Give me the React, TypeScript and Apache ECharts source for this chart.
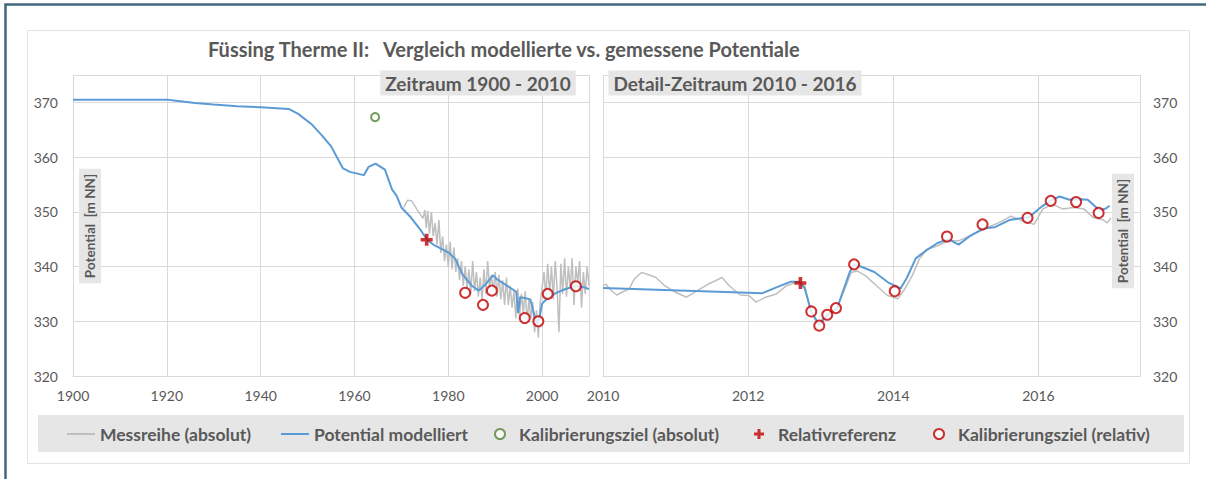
import React, { useEffect, useRef } from 'react';
import * as echarts from 'echarts';

// ---------- data ----------
const titleText = 'Füssing Therme II:   Vergleich modellierte vs. gemessene Potentiale';
const leftPanelTitle = 'Zeitraum 1900 - 2010';
const rightPanelTitle = 'Detail-Zeitraum 2010 - 2016';
const yAxisName = 'Potential  [m NN]';

const leftModel: [number, number][] = [
  [1900, 370.5], [1920, 370.5], [1922, 370.3], [1926, 369.9], [1930, 369.6], [1935, 369.3], [1940, 369.1],
  [1946, 368.8], [1948, 367.9], [1951, 365.9], [1953, 364.0], [1955, 362.0], [1957.5, 358.0], [1959, 357.3],
  [1962, 356.7], [1963, 358.2], [1964.5, 358.8], [1966.5, 357.7], [1968, 354.1], [1969, 352.9], [1970, 350.8],
  [1972, 349.0], [1974, 346.8], [1975.5, 344.9], [1977, 343.9], [1980, 342.6], [1981.5, 341.4], [1983, 338.6],
  [1985, 336.5], [1986.5, 335.6], [1988, 336.8], [1989.5, 338.4], [1990.5, 337.6], [1992.5, 336.5],
  [1994.5, 335.4], [1994.9, 331.5], [1995.3, 334.4], [1996.5, 334.2], [1997.5, 334.0], [1998, 332.3],
  [1998.8, 329.5], [1999.5, 331.0], [2000, 333.2], [2001, 334.1], [2003, 335.2], [2005, 335.9], [2007, 336.4],
  [2009, 336.2], [2010, 335.9],
];

const leftMeasured: [number, number][] = [
  [1970.5, 350.8], [1971.3, 352.1], [1972.2, 352.0], [1973.3, 350.5], [1974.6, 348.8], [1975.0, 350.3],
  [1975.3, 347.0], [1975.6, 350.2], [1976.0, 346.0], [1976.4, 350.0], [1976.8, 345.5], [1977.2, 348.0],
  [1977.6, 344.0], [1978.0, 348.5], [1978.4, 342.5], [1978.8, 345.5], [1979.2, 341.0], [1979.6, 344.0],
  [1980.0, 340.0], [1980.4, 344.5], [1980.8, 339.5], [1981.2, 343.5], [1981.6, 339.0], [1982.0, 341.5],
  [1982.4, 337.5], [1982.8, 341.0], [1983.2, 336.5], [1983.6, 340.0], [1984.0, 336.0], [1984.4, 339.5],
  [1984.8, 335.0], [1985.2, 341.0], [1985.6, 335.5], [1986.0, 339.0], [1986.4, 334.5], [1986.8, 338.0],
  [1987.2, 334.0], [1987.6, 339.5], [1988.0, 335.0], [1988.4, 341.0], [1988.8, 336.0], [1989.2, 338.5],
  [1989.6, 335.5], [1990.0, 339.0], [1990.4, 334.5], [1990.8, 338.5], [1991.2, 334.0], [1991.6, 337.5],
  [1992.0, 333.0], [1992.4, 338.0], [1992.8, 333.0], [1993.2, 336.5], [1993.6, 332.5], [1994.0, 335.5],
  [1994.4, 330.5], [1994.8, 336.0], [1995.2, 331.0], [1995.6, 335.0], [1996.0, 331.5], [1996.4, 335.5],
  [1996.8, 330.0], [1997.2, 334.0], [1997.6, 330.5], [1998.0, 333.5], [1998.4, 328.0], [1998.8, 332.0],
  [1999.2, 327.0], [1999.6, 333.5], [2000.0, 336.0], [2000.4, 339.0], [2000.8, 334.5], [2001.2, 340.5],
  [2001.6, 335.0], [2002.0, 340.0], [2002.4, 334.0], [2002.8, 341.0], [2003.2, 336.0], [2003.6, 328.0],
  [2004.0, 340.5], [2004.4, 335.0], [2004.8, 341.5], [2005.2, 334.5], [2005.6, 340.0], [2006.0, 336.0],
  [2006.4, 341.5], [2006.8, 333.0], [2007.2, 340.0], [2007.6, 337.0], [2008.0, 341.0], [2008.4, 332.5],
  [2008.8, 339.0], [2009.2, 335.0], [2009.6, 340.0], [2010.0, 336.5],
];

const rightModel: [number, number][] = [
  [2010.0, 336.1], [2012.0, 335.2], [2012.19, 335.1], [2012.39, 336.2], [2012.58, 337.2], [2012.71, 337.2],
  [2012.78, 336.0], [2012.87, 331.8], [2012.98, 329.3], [2013.09, 331.2], [2013.22, 332.2], [2013.4, 339.0],
  [2013.46, 340.3], [2013.55, 340.0], [2013.74, 339.0], [2013.94, 337.0], [2014.1, 336.0], [2014.19, 338.0],
  [2014.31, 341.5], [2014.46, 343.0], [2014.61, 344.3], [2014.76, 345.0], [2014.9, 344.0], [2015.05, 345.5],
  [2015.25, 347.0], [2015.4, 347.2], [2015.6, 348.5], [2015.74, 348.8], [2015.87, 349.0], [2016.05, 351.0],
  [2016.16, 352.0], [2016.29, 352.8], [2016.43, 352.2], [2016.58, 352.3], [2016.68, 352.2], [2016.78, 351.0],
  [2016.85, 350.3], [2016.93, 350.6], [2016.98, 351.1],
];

const rightMeasured: [number, number][] = [
  [2010.0, 336.5], [2010.04, 336.8], [2010.09, 335.9], [2010.19, 334.8], [2010.26, 335.3], [2010.36, 335.9],
  [2010.43, 337.7], [2010.53, 338.9], [2010.61, 338.6], [2010.73, 338.0], [2010.85, 336.5], [2011.0, 335.3],
  [2011.15, 334.4], [2011.3, 335.6], [2011.45, 336.8], [2011.55, 337.4], [2011.64, 338.0], [2011.74, 336.5],
  [2011.89, 334.8], [2012.01, 334.7], [2012.11, 333.5], [2012.24, 334.4], [2012.39, 335.0], [2012.53, 336.5],
  [2012.68, 337.2], [2012.78, 336.5], [2012.85, 332.3], [2012.95, 329.5], [2013.08, 331.0], [2013.22, 332.3],
  [2013.35, 336.5], [2013.42, 338.9], [2013.5, 339.2], [2013.62, 338.3], [2013.77, 336.5], [2013.92, 334.7],
  [2014.06, 334.1], [2014.16, 335.9], [2014.26, 338.3], [2014.36, 341.4], [2014.46, 343.1], [2014.61, 343.8],
  [2014.76, 344.7], [2014.9, 344.7], [2015.05, 345.6], [2015.2, 346.5], [2015.35, 347.4], [2015.5, 348.3],
  [2015.62, 349.2], [2015.79, 348.3], [2015.94, 347.7], [2016.06, 350.5], [2016.19, 351.4], [2016.34, 350.5],
  [2016.48, 350.8], [2016.63, 350.5], [2016.76, 348.9], [2016.88, 348.6], [2016.95, 348.0], [2017.0, 348.9],
];

const absoluteTargets: [number, number][] = [[1964.4, 367.3]];
const relRefLeft: [number, number][] = [[1975.4, 344.9]];
const relRefRight: [number, number][] = [[2012.72, 337.0]];
const relTargetsLeft: [number, number][] = [
  [1983.6, 335.2], [1987.4, 333.0], [1989.3, 335.6], [1996.3, 330.6], [1999.2, 330.0], [2001.2, 335.0], [2007.2, 336.4],
];
const relTargetsRight: [number, number][] = [
  [2012.87, 331.8], [2012.98, 329.2], [2013.09, 331.2], [2013.21, 332.4], [2013.46, 340.4], [2014.02, 335.5],
  [2014.74, 345.5], [2015.23, 347.7], [2015.85, 348.9], [2016.17, 352.0], [2016.52, 351.8], [2016.83, 349.8],
];

const legendNames = [
  'Messreihe (absolut)',
  'Potential modelliert',
  'Kalibrierungsziel (absolut)',
  'Relativreferenz',
  'Kalibrierungsziel (relativ)',
];

// ---------- styling ----------
const FONT = 'Lato';
const TEXT = '#595959';
const GRID = '#d9d9d9';
const BLUE = '#5b9bd5';
const GRAYLINE = '#bfbfbf';
const RED = '#c00000';
const GREEN = '#548235';
const PLUS = 'path://M3.5,0H6.5V3.5H10V6.5H6.5V10H3.5V6.5H0V3.5H3.5Z';

export default function App() {
  const ref = useRef<HTMLDivElement>(null);
  useEffect(() => {
    if (!ref.current) return;
    const chart = echarts.init(ref.current, undefined, { renderer: 'svg' });

    const axisCommon = {
      axisTick: { show: false },
      axisLine: { show: true, lineStyle: { color: GRID } },
      splitLine: { show: true, lineStyle: { color: GRID, width: 1 } },
    };
    const yLabel = (v: number) => (v % 10 === 0 && v <= 370 ? String(v) : '');

    const legendPos = [67, 281, 494, 754, 933];
    const legends = legendNames.map((n, i) => {
      const isLine = i < 2;
      return {
        data: [isLine ? { name: n, icon: 'rect' } : n],
        left: legendPos[i],
        top: 425,
        itemWidth: 28,
        itemHeight: isLine ? 2 : 10,
        selectedMode: false,
        symbolKeepAspect: true,
        padding: 0,
        textStyle: { fontFamily: FONT, fontSize: 17.5, fontWeight: 'bold', color: TEXT },
      };
    });

    const lineSeries = (name: string, data: any, idx: number, color: string, width: number, z: number) => ({
      name, type: 'line', data, xAxisIndex: idx, yAxisIndex: idx, symbol: 'none', showSymbol: false,
      lineStyle: { color, width }, itemStyle: { color }, z, silent: true,
    });
    const scatter = (name: string, data: any, idx: number, symbol: string, size: number, color: string, bw: number) => ({
      name, type: 'scatter', data, xAxisIndex: idx, yAxisIndex: idx, symbol, symbolSize: size,
      itemStyle: symbol === 'emptyCircle' ? { color, borderColor: color, borderWidth: bw } : { color },
      z: 5, silent: true,
    });

    chart.setOption({
      animation: false,
      backgroundColor: '#ffffff',
      title: {
        text: titleText, left: 208, top: 39, padding: 0,
        textStyle: { fontFamily: FONT, fontSize: 20, fontWeight: 'bold', color: TEXT },
      },
      legend: legends,
      grid: [
        { left: 73, top: 75, width: 516, height: 301 },
        { left: 603, top: 75, width: 537, height: 301 },
      ],
      xAxis: [
        {
          type: 'value', gridIndex: 0, min: 1900, max: 2010, interval: 20, ...axisCommon,
          axisLabel: { fontFamily: FONT, fontSize: 14, color: TEXT, margin: 12,
            formatter: (v: number) => (v < 2010 ? String(v) : '') },
        },
        {
          type: 'value', gridIndex: 1, min: 2010, max: 2017.4, interval: 2, ...axisCommon,
          axisLabel: { fontFamily: FONT, fontSize: 14, color: TEXT, margin: 12,
            formatter: (v: number) => (Number.isInteger(v) && v % 2 === 0 ? String(v) : '') },
        },
      ],
      yAxis: [
        {
          type: 'value', gridIndex: 0, min: 320, max: 375, interval: 10, ...axisCommon,
          axisLabel: { fontFamily: FONT, fontSize: 14, color: TEXT, margin: 15, formatter: yLabel },
        },
        {
          type: 'value', gridIndex: 1, position: 'right', min: 320, max: 375, interval: 10, ...axisCommon,
          axisLabel: { fontFamily: FONT, fontSize: 14, color: TEXT, margin: 13, formatter: yLabel },
        },
      ],
      graphic: [
        { type: 'rect', z: -10, shape: { x: 5.5, y: 4.5, width: 1300, height: 700 }, style: { fill: '#ffffff', stroke: '#41687e', lineWidth: 2.5 } },
        { type: 'rect', z: -9, shape: { x: 27.5, y: 30.5, width: 1162, height: 433 }, style: { fill: '#ffffff', stroke: '#e3e3e3', lineWidth: 1 } },
        { type: 'rect', z: -8, shape: { x: 38, y: 415, width: 1146, height: 37 }, style: { fill: '#e6e6e6' } },
        {
          type: 'text', z: 10, x: 478, y: 83,
          style: { text: leftPanelTitle, align: 'center', verticalAlign: 'middle', font: `bold 19px ${FONT}`, fill: TEXT,
            backgroundColor: '#e6e6e6', padding: [3, 5, 3, 5] },
        },
        {
          type: 'text', z: 10, x: 735, y: 83,
          style: { text: rightPanelTitle, align: 'center', verticalAlign: 'middle', font: `bold 19px ${FONT}`, fill: TEXT,
            backgroundColor: '#e6e6e6', padding: [3, 5, 3, 5] },
        },
        {
          type: 'text', z: 10, x: 90, y: 226, rotation: Math.PI / 2,
          style: { text: yAxisName, align: 'center', verticalAlign: 'middle', font: `bold 13.5px ${FONT}`, fill: TEXT,
            backgroundColor: '#e6e6e6', padding: [4, 5, 4, 5] },
        },
        {
          type: 'text', z: 10, x: 1123, y: 231, rotation: Math.PI / 2,
          style: { text: yAxisName, align: 'center', verticalAlign: 'middle', font: `bold 13.5px ${FONT}`, fill: TEXT,
            backgroundColor: '#e6e6e6', padding: [4, 5, 4, 5] },
        },
      ],
      series: [
        lineSeries(legendNames[0], leftMeasured, 0, GRAYLINE, 1.5, 2),
        lineSeries(legendNames[0], rightMeasured, 1, GRAYLINE, 1.5, 2),
        lineSeries(legendNames[1], leftModel, 0, BLUE, 2, 3),
        lineSeries(legendNames[1], rightModel, 1, BLUE, 2, 3),
        scatter(legendNames[2], absoluteTargets, 0, 'emptyCircle', 8, GREEN, 2),
        scatter(legendNames[3], relRefLeft, 0, PLUS, 12, RED, 0),
        scatter(legendNames[3], relRefRight, 1, PLUS, 12, RED, 0),
        scatter(legendNames[4], relTargetsLeft, 0, 'emptyCircle', 10, RED, 2.5),
        scatter(legendNames[4], relTargetsRight, 1, 'emptyCircle', 10, RED, 2.5),
      ],
    });
    return () => chart.dispose();
  }, []);

  return <div ref={ref} style={{ position: 'fixed', left: 0, top: 0, width: 1206, height: 479 }} />;
}
